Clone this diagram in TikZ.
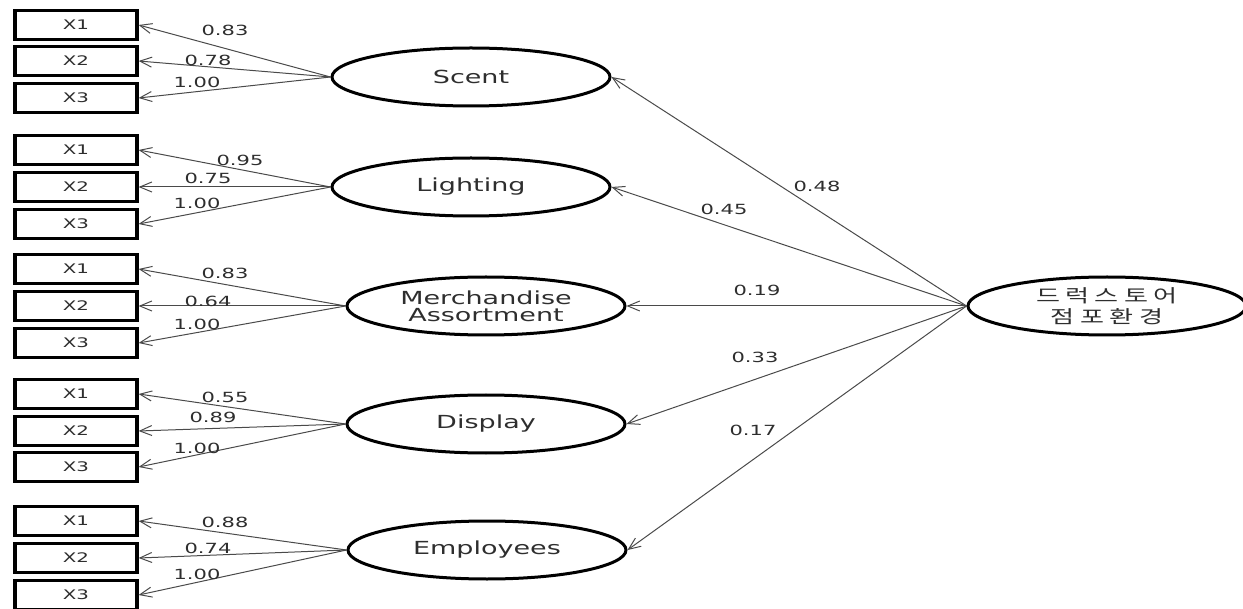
\documentclass[tikz,border=0pt]{standalone}
\usepackage{fontspec}
\setmainfont[FakeStretch=1.5]{DejaVu Sans}
\newfontfamily\kr[FakeStretch=1.45,LetterSpace=30]{Noto Sans CJK KR}
\usetikzlibrary{shapes.geometric,arrows.meta}
\definecolor{txtgray}{HTML}{2E2E2E}
\definecolor{lngray}{HTML}{4A4A4A}

\begin{document}
\begin{tikzpicture}[x=0.5pt,y=-0.5pt,
  obs/.style={draw,line width=1.6pt,minimum width=61pt,minimum height=14.5pt,inner sep=0pt,text=txtgray,font=\fontsize{6.6}{7}\selectfont},
  lat/.style={draw,ellipse,line width=1.5pt,minimum width=139pt,minimum height=29pt,inner sep=0pt,text=txtgray,font=\fontsize{9}{8.6}\selectfont,align=center},
  coef/.style={text=txtgray,inner sep=0pt,font=\fontsize{7}{7}\selectfont},
  ld/.style={draw=lngray,line width=0.5pt,-{Straight Barb[length=6pt,width=5pt]}}]
\useasboundingbox (0,0) rectangle (1243,609);

\node[lat] (scent) at (471,77) {Scent};
\node[lat] (light) at (471,187) {Lighting};
\node[lat] (merch) at (486,306) {Merchandise\\Assortment};
\node[lat] (disp) at (486,424) {Display};
\node[lat] (empl) at (487,550) {Employees};
\node[lat,font=\fontsize{9}{10.5}\selectfont] (store) at (1107,306) {\kr 드럭스토어\\\kr 점포환경};

\node[obs] (s1) at (76,25) {X1};
\node[obs] (s2) at (76,61) {X2};
\node[obs] (s3) at (76,98) {X3};
\node[obs] (l1) at (76,150) {X1};
\node[obs] (l2) at (76,187) {X2};
\node[obs] (l3) at (76,224) {X3};
\node[obs] (m1) at (76,269) {X1};
\node[obs] (m2) at (76,306) {X2};
\node[obs] (m3) at (76,343) {X3};
\node[obs] (d1) at (76,394) {X1};
\node[obs] (d2) at (76,431) {X2};
\node[obs] (d3) at (76,467) {X3};
\node[obs] (e1) at (76,521) {X1};
\node[obs] (e2) at (76,558) {X2};
\node[obs] (e3) at (76,595) {X3};

\draw[ld] (scent.west) -- (s1.east);
\draw[ld] (scent.west) -- (s2.east);
\draw[ld] (scent.west) -- (s3.east);
\draw[ld] (light.west) -- (l1.east);
\draw[ld] (light.west) -- (l2.east);
\draw[ld] (light.west) -- (l3.east);
\draw[ld] (merch.west) -- (m1.east);
\draw[ld] (merch.west) -- (m2.east);
\draw[ld] (merch.west) -- (m3.east);
\draw[ld] (disp.west) -- (d1.east);
\draw[ld] (disp.west) -- (d2.east);
\draw[ld] (disp.west) -- (d3.east);
\draw[ld] (empl.west) -- (e1.east);
\draw[ld] (empl.west) -- (e2.east);
\draw[ld] (empl.west) -- (e3.east);

\draw[ld] (store.west) -- (scent.east);
\draw[ld] (store.west) -- (light.east);
\draw[ld] (store.west) -- (merch.east);
\draw[ld] (store.west) -- (disp.east);
\draw[ld] (store.west) -- (empl.east);

\node[coef] (cs1) at (225,30) {0.83};
\node[coef] (cs2) at (208,60) {0.78};
\node[coef] (cs3) at (197,82) {1.00};
\node[coef] (cl1) at (240,160) {0.95};
\node[coef] (cl2) at (208,178) {0.75};
\node[coef] (cl3) at (197,203) {1.00};
\node[coef] (cm1) at (225,273) {0.83};
\node[coef] (cm2) at (208,301) {0.64};
\node[coef] (cm3) at (197,324) {1.00};
\node[coef] (cd1) at (225,397) {0.55};
\node[coef] (cd2) at (213,417) {0.89};
\node[coef] (cd3) at (197,448) {1.00};
\node[coef] (ce1) at (225,522) {0.88};
\node[coef] (ce2) at (208,548) {0.74};
\node[coef] (ce3) at (197,574) {1.00};

\node[coef] (cst1) at (817,186) {0.48};
\node[coef] (cst2) at (724,209) {0.45};
\node[coef] (cst3) at (757,290) {0.19};
\node[coef] (cst4) at (755,357) {0.33};
\node[coef] (cst5) at (753,430) {0.17};
\end{tikzpicture}
\end{document}
